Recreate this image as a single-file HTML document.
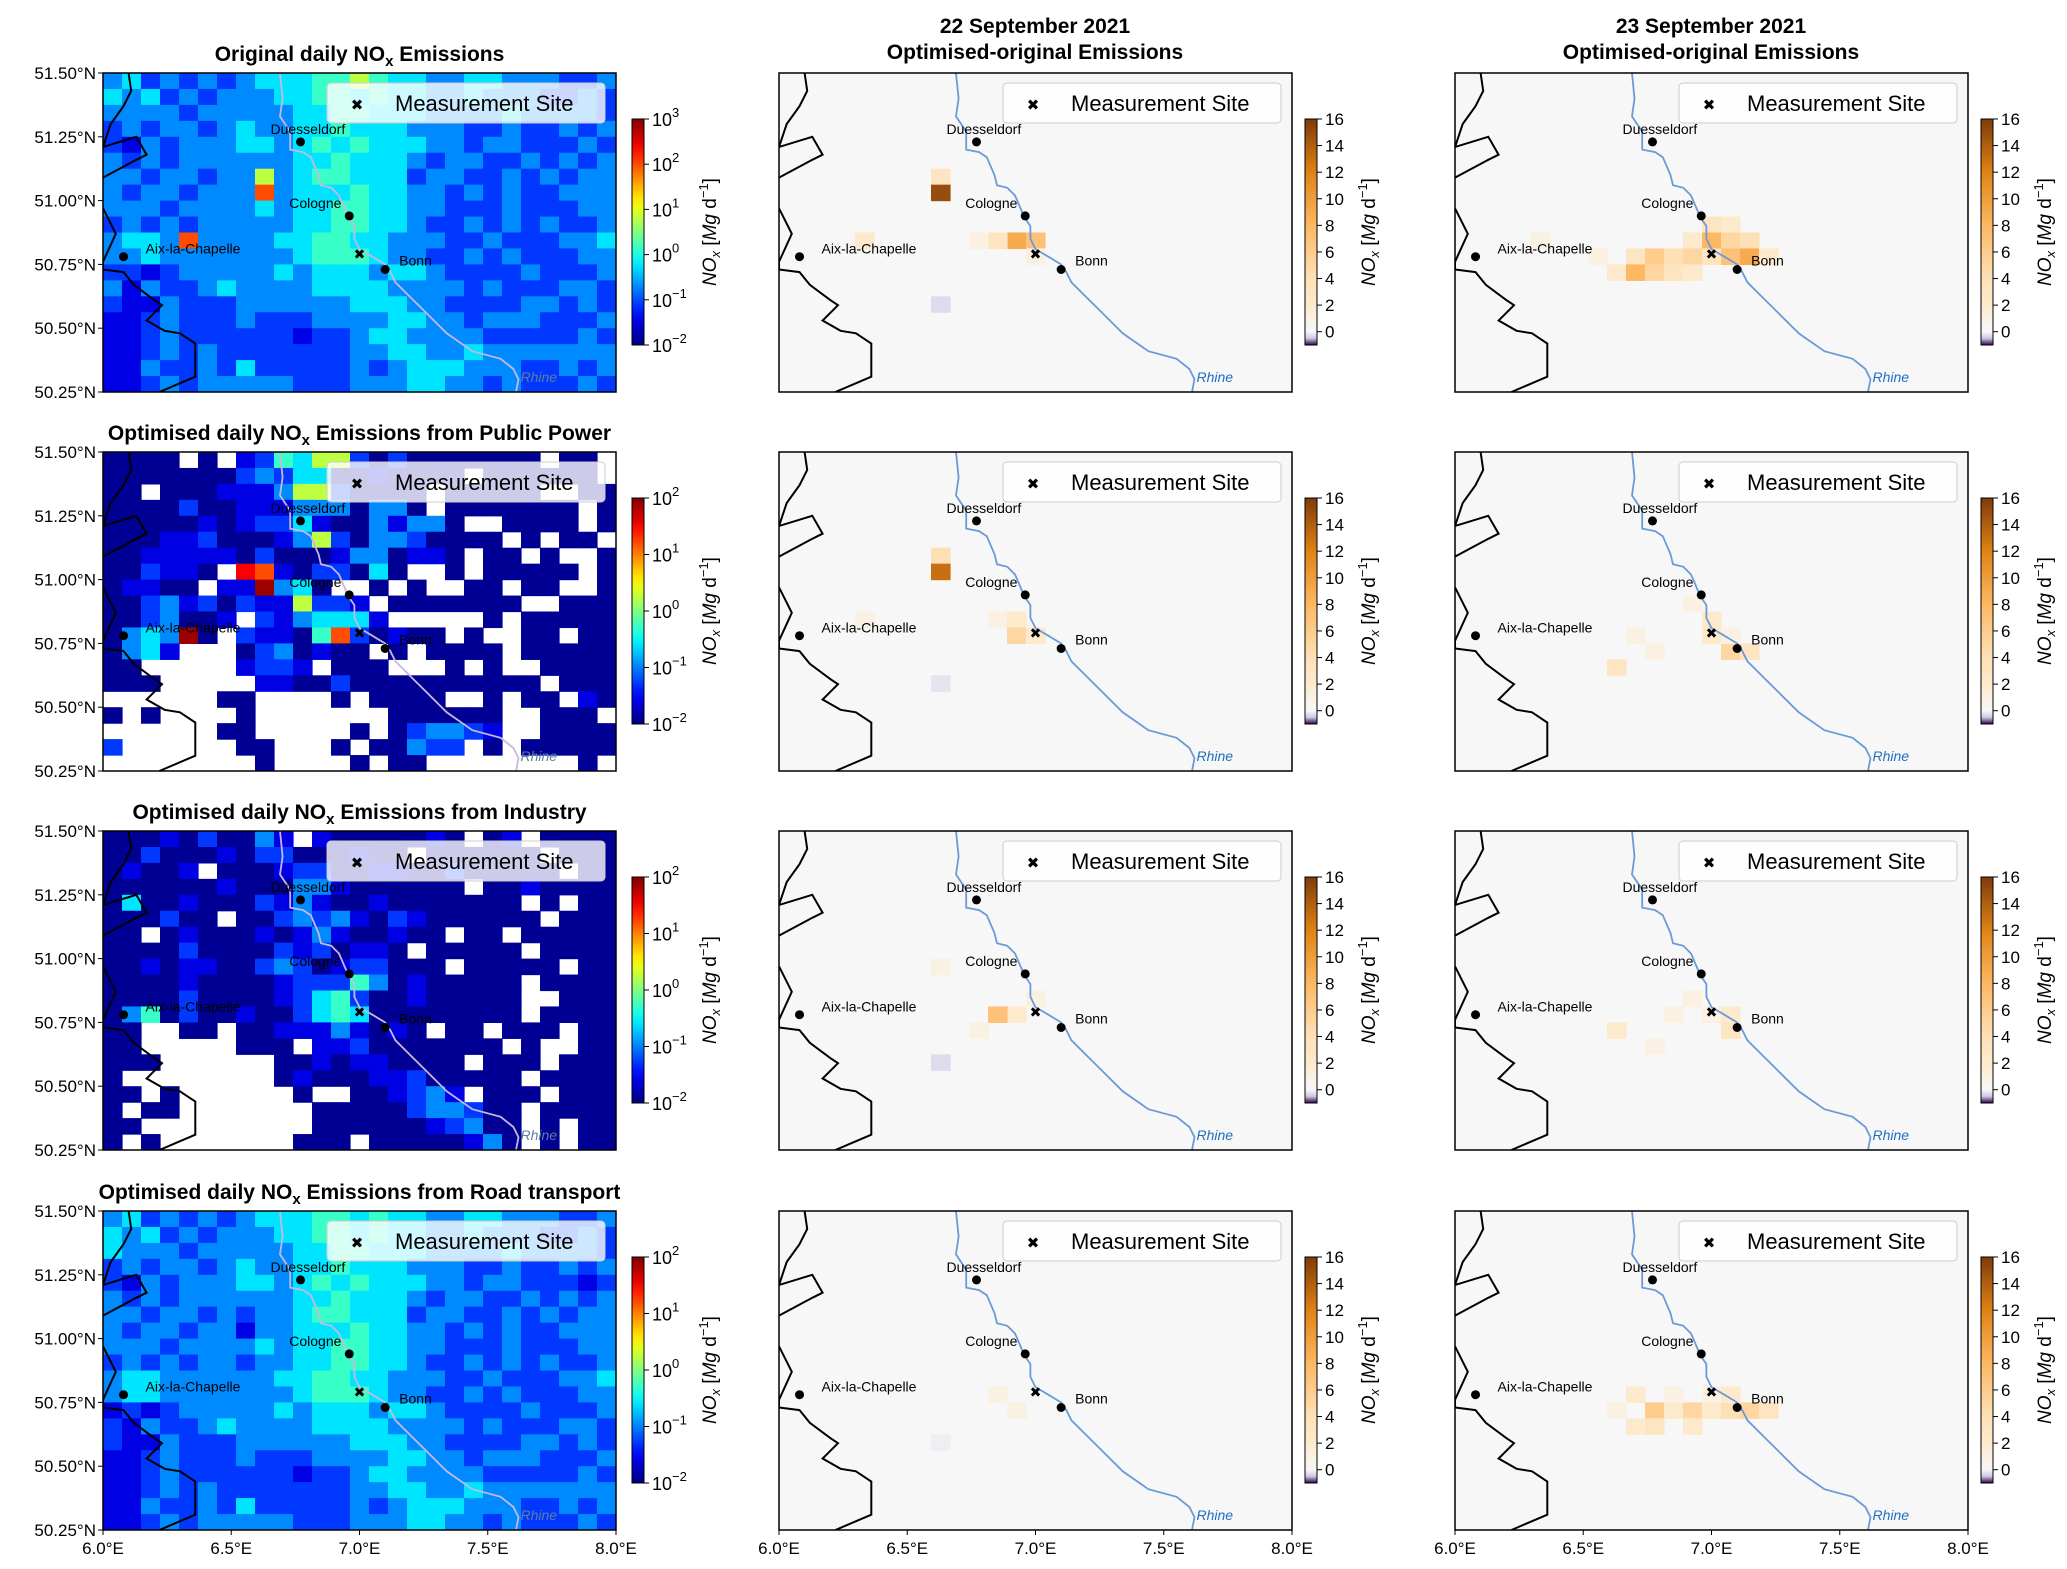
<!DOCTYPE html>
<html><head><meta charset="utf-8"><style>
body{margin:0;background:#fff}
svg{display:block;font-family:"Liberation Sans","DejaVu Sans",sans-serif}
</style></head><body>
<svg id="fig" width="2067" height="1569" viewBox="0 0 2067 1569" xmlns="http://www.w3.org/2000/svg"></svg>
<script>
// ---- data ----
const latTicks = ["51.50°N","51.25°N","51.00°N","50.75°N","50.50°N","50.25°N"];
const latVals = [51.5,51.25,51.0,50.75,50.5,50.25];
const lonTicks = ["6.0°E","6.5°E","7.0°E","7.5°E","8.0°E"];
const lonVals = [6,6.5,7,7.5,8];
const cityNames = ["Duesseldorf","Cologne","Bonn","Aix-la-Chapelle"];
const cityLon = [6.77,6.96,7.10,6.08];
const cityLat = [51.23,50.94,50.73,50.78];
const siteLon = 7.0, siteLat = 50.79;
const rowTitles = ["Original daily NO","Optimised daily NO","Optimised daily NO","Optimised daily NO"];
const rowTitleTails = [" Emissions"," Emissions from Public Power"," Emissions from Industry"," Emissions from Road transport"];
const logTicks1 = [-2,-1,0,1,2,3];
const logTicks2 = [-2,-1,0,1,2];
const linTicks = [0,2,4,6,8,10,12,14,16];
// heatmap level codes -> fraction of colour range
const levelFrac = [0.02,0.10,0.18,0.26,0.35,0.43,0.56,0.80,0.88,0.97];
const P1 = [
"342323234445565443344333223","434232333445545443343332232","333323333344554443333433332",
"232332343344544433322322323","213233344345454443323322232","323233333344544432332232323",
"332332336345544423322323233","323323337344454433232322333","333233334344554433222322233",
"232323333344554432232323223","344373333445544333223222334","334333333345554332232322233",
"221233333434443443222232223","313223433334444333323222332","211322233333344433222233232",
"112322232223333443323332223","112322222212234433332222232","112323222222233443343333333",
"113223242222232344433322323","112323333322233344332322232"];
const P2 = [
"0000.0.1254662020000000.00.","0000000232440010000.000000.","00.00011136620000.00000..00",
"00002001113330330.0000000.0","0000010122410031330..0000.0","000112000136203320000.0.00",
"0011111020001330110.00.0..0","002110.871022040..0.00000.0","01100.119340..0.0..00.00..0",
"00231202116221.0000000..000","0023001.2134441.....0.00000","034390.21105720100.0..00.00",
"0341...0230100.0.0000.00000","00.....1221.000...0.0..0000","000.....110020000000000.000",
"......00....0.0000..0.00.10","0.0....0.......000000..000.","......00.....0.023321..0000",
"2......00...0.00322.0.00000","........0....0.00........0."];
const P3 = [
"0001020031.10000010.01.0000","0020001022000100.000000.000","01001.000122001100200000.00",
"0000001000331000000.0010000","0400100021310010000000.0.00","000200.0023231021000000.000",
"00.010001013100100.00.00000","0000200002120110.00000.0000","001011002320122000.00000.00",
"0000100001222530100000.0000","0000200001245200100000..000","0350200100245400000000.0000",
"00..00.0011131010.00.000.00","00.....000.1120000000.0..00","000......0010110000.000.000",
"0........0100011200000.0000","00.0......0..001231.000.000","0.00.......00000233200.0000",
"00.........00000012300.0.00","0.0.......000.00000130.0.00"];
const P4 = [
"342323234445545443344333223","434232333445545443343332232","433323333344554443333433332",
"232332343344544433322322323","213233344345454443323322212","323233333344544432332232323",
"332332323345544423322323233","323323313344454433232322333","333233334344554433222322233",
"232323323344554432232323223","344333333445544333223222334","344333333345554332232322233",
"121233333434443443222232223","213223433334444333323222332","211322233333344433222233232",
"112322232223333443323332223","112322222212234433332222232","112323222222233443343333333",
"113223242222232344433322323","112323333322233344332322232"];
// sparse difference cells [col i, row j, value Mg/d]
const D22 = [
 [[8,6,3],[8,7,15],[12,10,9],[13,10,7],[11,10,3],[10,10,1],[4,10,2],[8,14,-0.3],[13,11,1]],
 [[8,6,4],[8,7,13],[4,10,1],[11,10,1],[12,10,2],[12,11,5],[13,11,2],[8,14,-0.2]],
 [[8,8,1],[12,11,2],[11,11,7],[13,10,1],[8,14,-0.3],[10,12,1]],
 [[11,11,1],[12,12,1],[8,14,-0.1]]];
const D23 = [
 [[13,9,3],[14,9,2],[12,10,2],[13,10,8],[14,10,5],[15,10,4],[9,11,3],[10,11,6],[11,11,4],[12,11,5],[13,11,3],[14,11,7],[15,11,9],[16,11,2],[8,12,2],[9,12,8],[10,12,5],[11,12,3],[12,12,2],[7,11,1],[4,10,1]],
 [[12,9,1],[13,10,2],[9,11,1],[13,11,2],[14,12,5],[15,12,3],[10,12,1],[8,13,3],[14,11,1]],
 [[12,10,1],[13,11,1],[14,12,3],[8,12,2],[10,13,1],[14,11,2],[11,11,1]],
 [[9,11,2],[10,12,6],[11,12,2],[12,12,5],[13,12,2],[14,12,4],[15,12,5],[16,12,3],[8,12,1],[9,13,2],[10,13,3],[12,13,2],[13,11,1],[14,11,2],[11,11,1]]];
const rhineLon=[6.69,6.70,6.69,6.73,6.73,6.78,6.81,6.84,6.85,6.89,6.92,6.95,6.96,6.98,6.98,7.0,7.05,7.10,7.12,7.14,7.2,7.26,7.34,7.44,7.55,7.60,7.62,7.61];
const rhineLat=[51.5,51.4,51.33,51.27,51.2,51.19,51.17,51.1,51.06,51.05,51.02,50.95,50.93,50.9,50.85,50.81,50.78,50.75,50.72,50.68,50.62,50.56,50.48,50.41,50.38,50.34,50.3,50.25];
const bordLon=[6.1,6.11,6.08,6.03,6.0,6.13,6.17,6.13,6.0];
const bordLat=[51.5,51.43,51.37,51.3,51.21,51.25,51.18,51.16,51.09];
const bord2Lon=[6.0,6.05,6.0,6.0,6.08,6.12,6.20,6.23,6.17,6.24,6.3,6.36,6.36,6.22];
const bord2Lat=[50.97,50.87,50.76,50.73,50.72,50.67,50.61,50.59,50.53,50.49,50.48,50.44,50.31,50.25];

// ---- layout ----
const NS="http://www.w3.org/2000/svg";
const svg=document.getElementById('fig');
const rowsY=[73,452,831,1211], colsX=[103,779,1455], W=513, H=319;
const NCOL=27, NROW=20;
function xS(lon,c){return colsX[c]+(lon-6)/2*W;}
function yS(lat,r){return rowsY[r]+(51.5-lat)/1.25*H;}
function mk(tag,attrs,parent){const e=document.createElementNS(NS,tag);for(const k in attrs)e.setAttribute(k,attrs[k]);(parent||svg).appendChild(e);return e;}
function txt(s,attrs,parent){const e=mk('text',attrs,parent);e.textContent=s;return e;}
function clamp(v){return Math.max(0,Math.min(1,v));}
function jet(t){const r=clamp(1.5-Math.abs(4*t-3)),g=clamp(1.5-Math.abs(4*t-2)),b=clamp(1.5-Math.abs(4*t-1));return `rgb(${Math.round(r*255)},${Math.round(g*255)},${Math.round(b*255)})`;}
const puStops=[[-1,[45,0,75]],[-0.5,[205,200,228]],[0,[247,247,247]],[2,[253,234,205]],[4,[254,224,182]],[8,[253,184,99]],[12,[224,130,20]],[16,[127,59,8]]];
function puor(v){for(let i=1;i<puStops.length;i++){if(v<=puStops[i][0]){const a=puStops[i-1],b=puStops[i];const t=(v-a[0])/(b[0]-a[0]);const c=a[1].map((x,k)=>Math.round(x+(b[1][k]-x)*t));return `rgb(${c})`;}}return 'rgb(127,59,8)';}
const logRange=[[-2,3],[-2,2],[-2,2],[-2,2]];
const heat=[P1,P2,P3,P4];

let defs=mk('defs',{});
let gj=mk('linearGradient',{id:'gjet',x1:0,y1:1,x2:0,y2:0},defs);
for(let k=0;k<=20;k++){mk('stop',{offset:k/20,'stop-color':jet(k/20)},gj);}
let gp=mk('linearGradient',{id:'gpu',x1:0,y1:1,x2:0,y2:0},defs);
for(let k=0;k<=34;k++){const v=-1+k*0.5;mk('stop',{offset:(v+1)/17,'stop-color':puor(v)},gp);}

for(let r=0;r<4;r++){
 for(let c=0;c<3;c++){
  const g=mk('g',{});
  
  
  const cid=`clip${r}${c}`;
  const cp=mk('clipPath',{id:cid},defs);mk('rect',{x:colsX[c],y:rowsY[r],width:W,height:H},cp);
  const inner=mk('g',{'clip-path':`url(#${cid})`},g);
  const cw=W/NCOL, ch=H/NROW;
  if(c===0){
   const rows=heat[r], [lo,hi]=logRange[r];
   for(let j=0;j<NROW;j++){for(let i=0;i<NCOL;i++){
     const ch_=rows[j][i]; if(ch_==='.'||ch_===undefined) continue;
     const val=lo+levelFrac[+ch_]*(hi-lo);
     const cell=mk('rect',{x:xS(6+i*2/NCOL,c),y:yS(51.5-j*1.25/NROW,r),width:cw+0.6,height:ch+0.6,fill:jet((val-lo)/(hi-lo))},inner);
     
     
   }}
  } else {
   mk('rect',{x:colsX[c],y:rowsY[r],width:W,height:H,fill:'#f7f7f7'},inner);
   const cells=(c===1?D22:D23)[r];
   cells.forEach(d=>{
     const cell=mk('rect',{x:xS(6+d[0]*2/NCOL,c),y:yS(51.5-d[1]*1.25/NROW,r),width:cw+0.6,height:ch+0.6,fill:puor(d[2])},inner);
     
     
   });
  }
  const pth=(lons,lats)=>lons.map((l,k)=>`${k?'L':'M'}${xS(l,c).toFixed(1)},${yS(lats[k],r).toFixed(1)}`).join('');
  const b1=mk('path',{d:pth(bordLon,bordLat),fill:'none',stroke:'#000','stroke-width':2},inner);
  
  const b2=mk('path',{d:pth(bord2Lon,bord2Lat),fill:'none',stroke:'#000','stroke-width':2},inner);
  
  const rh=mk('path',{d:pth(rhineLon,rhineLat),fill:'none',stroke:c===0?'#c8b8e0':'#6a9ad8','stroke-width':1.8},inner);
  
  const rl=txt('Rhine',{x:xS(7.62,c)+2,y:yS(50.29,r),'font-size':14,'font-style':'italic',fill:c===0?'#5b7fa0':'#1f6fc0'},inner);
  
  cityNames.forEach((n,k)=>{
   const cx=xS(cityLon[k],c), cy=yS(cityLat[k],r);
   const dot=mk('circle',{cx:cx,cy:cy,r:4.5,fill:'#000'},g);
   
   let lx=cx-30, ly=cy-10;
   if(n==='Duesseldorf'){lx=cx-30;ly=cy-8;}
   if(n==='Cologne'){lx=cx-60;ly=cy-8;}
   if(n==='Bonn'){lx=cx+14;ly=cy-4;}
   if(n==='Aix-la-Chapelle'){lx=cx+22;ly=cy-3;}
   const t=txt(n,{x:lx,y:ly,'font-size':14,fill:'#000'},g);
   
  });
  const sx=xS(siteLon,c), sy=yS(siteLat,r);
  const site=txt('✖',{x:sx,y:sy+5,'font-size':14,'text-anchor':'middle',fill:'#000'},g);
  
  const lg=mk('g',{},g);
  
  mk('rect',{x:colsX[c]+224,y:rowsY[r]+10,width:278,height:40,rx:4,fill:'rgba(255,255,255,0.8)',stroke:'#ccc'},lg);
  txt('✖',{x:colsX[c]+254,y:rowsY[r]+37,'font-size':15,'text-anchor':'middle'},lg);
  txt('Measurement Site',{x:colsX[c]+292,y:rowsY[r]+38,'font-size':22},lg);
  mk('rect',{x:colsX[c],y:rowsY[r],width:W,height:H,fill:'none',stroke:'#000','stroke-width':1.5},g);
  const cbx=[632,1305,1981][c], cby=rowsY[r]+46, cbh=226, cbw=12;
  const cb=mk('g',{},g);
  
  mk('rect',{x:cbx,y:cby,width:cbw,height:cbh,fill:c===0?'url(#gjet)':'url(#gpu)',stroke:'#000','stroke-width':1},cb);
  if(c===0){
   const [lo,hi]=logRange[r]; const ticks=r===0?logTicks1:logTicks2;
   ticks.forEach(tv=>{
     const ty=cby+cbh-(tv-lo)/(hi-lo)*cbh;
     mk('line',{x1:cbx+cbw,x2:cbx+cbw+5,y1:ty,y2:ty,stroke:'#000'},cb);
     const t=txt('10',{x:cbx+cbw+8,y:ty+7,'font-size':18},cb);
     const s=mk('tspan',{dy:-9,'font-size':13},t);s.textContent=String(tv).replace('-','−');
   });
  } else {
   linTicks.forEach(tv=>{
     const ty=cby+cbh-(tv+1)/17*cbh;
     mk('line',{x1:cbx+cbw,x2:cbx+cbw+5,y1:ty,y2:ty,stroke:'#000'},cb);
     txt(String(tv),{x:cbx+cbw+8,y:ty+6,'font-size':17},cb);
   });
  }
  const lbx=[716,1375,2051][c], lby=cby+cbh/2;
  const cl=txt('',{x:lbx,y:lby,'font-size':19,'text-anchor':'middle',transform:`rotate(-90 ${lbx} ${lby})`},cb);
  
  const a=mk('tspan',{'font-style':'italic'},cl);a.textContent='NO';
  const b=mk('tspan',{'font-style':'italic','font-size':13,dy:4},cl);b.textContent='x';
  const d=mk('tspan',{dy:-4},cl);d.textContent=' [';
  const e=mk('tspan',{'font-style':'italic'},cl);e.textContent='Mg';
  const f=mk('tspan',{},cl);f.textContent=' d';
  const h=mk('tspan',{'font-size':13,dy:-8},cl);h.textContent='−1';
  const i2=mk('tspan',{dy:8},cl);i2.textContent=']';
  if(c===0){
   latVals.forEach((lv,k)=>{
    const ty=yS(lv,r);
    mk('line',{x1:colsX[0]-5,x2:colsX[0],y1:ty,y2:ty,stroke:'#000'},g);
    const t=txt(latTicks[k],{x:colsX[0]-7,y:ty+6,'font-size':17,'text-anchor':'end'},g);
    
   });
   const tt=txt(rowTitles[r],{x:colsX[0]+W/2,y:rowsY[r]-12,'font-size':21,'font-weight':'bold','text-anchor':'middle'},g);
   
   const sb=mk('tspan',{'font-size':15,dy:5},tt);sb.textContent='x';
   const tl=mk('tspan',{dy:-5},tt);tl.textContent=rowTitleTails[r];
  }
  if(r===3){
   lonVals.forEach((lv,k)=>{
    const tx=xS(lv,c);
    mk('line',{x1:tx,x2:tx,y1:rowsY[3]+H,y2:rowsY[3]+H+5,stroke:'#000'},g);
    const t=txt(lonTicks[k],{x:tx,y:rowsY[3]+H+24,'font-size':17,'text-anchor':'middle'},g);
    
   });
  }
 }
}
const hdr=[["22 September 2021",1035],["23 September 2021",1711]];
hdr.forEach(h=>{
 const t1=txt(h[0],{x:h[1],y:33,'font-size':21,'font-weight':'bold','text-anchor':'middle'});
 
 const t2=txt('Optimised-original Emissions',{x:h[1],y:59,'font-size':21,'font-weight':'bold','text-anchor':'middle'});
 
});
</script>
</body></html>
